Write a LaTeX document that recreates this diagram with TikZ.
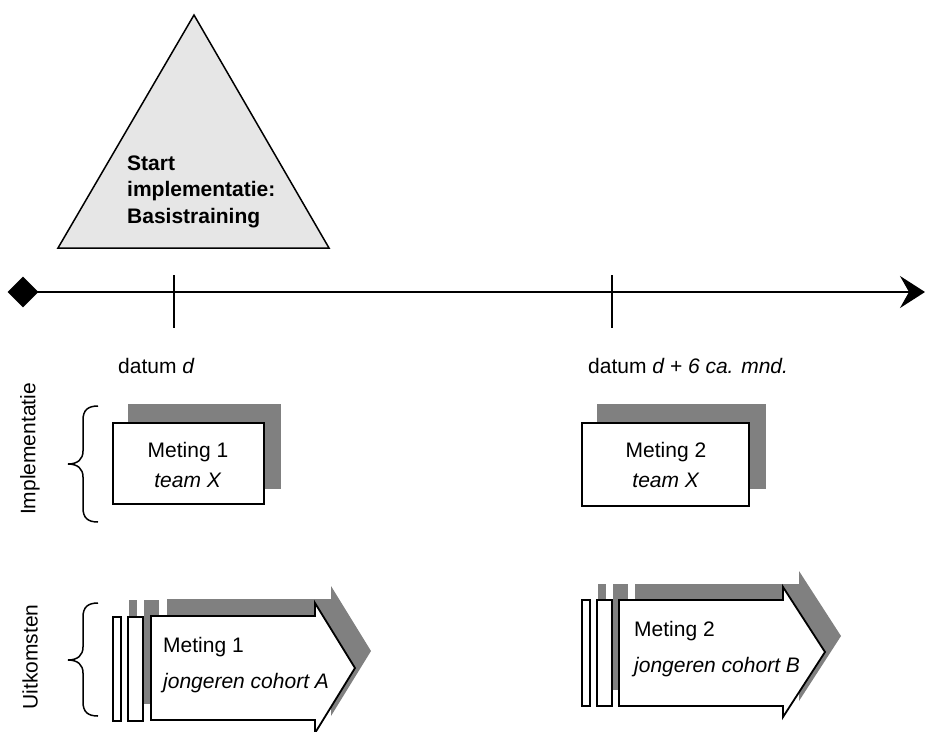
\documentclass[tikz,border=0pt]{standalone}
\usepackage{fontspec}
\setmainfont{Liberation Sans}
\usetikzlibrary{arrows.meta,shapes.geometric}
\definecolor{shade}{RGB}{128,128,128}
\definecolor{trifill}{RGB}{230,230,230}
\tikzset{
  txt/.style={inner sep=0pt, font=\fontsize{21}{25}\selectfont},
  btxt/.style={inner sep=0pt, font=\fontsize{21}{25}\selectfont\bfseries, anchor=base west},
  shadowfill/.style={fill=shade, draw=none},
  whitebox/.style={draw=black, fill=white, line width=1.8pt},
  bracestyle/.style={line width=1.5pt},
  tickstyle/.style={line width=1.5pt},
  axisline/.style={line width=1.9pt, -{Stealth[length=25pt,width=32pt,inset=9pt]}},
}
\begin{document}
\begin{tikzpicture}[x=1pt,y=-1pt]
\useasboundingbox (0,0) rectangle (925,731);
\clip (0,0) rectangle (925,731);

% triangle
\coordinate (apex) at (194,15);
\coordinate (bl) at (58,248);
\coordinate (br) at (329,248);
\filldraw[fill=trifill, draw=black, line width=1.5pt, line join=miter] (apex) -- (br) -- (bl) -- cycle;
\node[btxt] (s1) at (127,170) {Start};
\node[btxt] (s2) at (127,196.5) {implementatie:};
\node[btxt] (s3) at (127,223) {Basistraining};

% axis
\node[diamond, fill=black, inner sep=0pt, minimum width=31pt, minimum height=31pt] (start) at (23,292) {};
\coordinate (end) at (925,292);
\draw[axisline] (start.center) -- (end);
\coordinate (t1a) at (174,275); \coordinate (t1b) at (174,328);
\coordinate (t2a) at (612,275); \coordinate (t2b) at (612,328);
\draw[tickstyle] (t1a) -- (t1b);
\draw[tickstyle] (t2a) -- (t2b);

% date labels
\node[txt, anchor=base west] (d1) at (118,373) {datum \textit{d}};
\node[txt, anchor=base west] (d2) at (588,373) {datum \textit{d + 6 ca. mnd.}};

% side labels
\node[txt, rotate=90] (limp) at (30,449) {Implementatie};
\node[txt, rotate=90] (luit) at (30,657) {Uitkomsten};

% braces
\draw[bracestyle] (98,406) .. controls (88,406) and (83,410) .. (83,420) -- (83,451)
  .. controls (83,459) and (78,464) .. (68,464)
  .. controls (78,464) and (83,469) .. (83,477) -- (83,508)
  .. controls (83,518) and (88,522) .. (98,522);
\draw[bracestyle] (98,603) .. controls (88,603) and (83,607) .. (83,617) -- (83,647)
  .. controls (83,655) and (78,660) .. (68,660)
  .. controls (78,660) and (83,665) .. (83,673) -- (83,702)
  .. controls (83,712) and (88,716) .. (98,716);

% measurement boxes (implementation)
\fill[shadowfill] (128,404) rectangle (281,489);
\node[whitebox, minimum width=151pt, minimum height=81pt, inner sep=0pt] (m1) at (188.5,463.5) {};
\node[txt, anchor=base] (m1a) at (188,457) {Meting 1};
\node[txt, anchor=base] (m1b) at (188,487) {\textit{team X}};

\fill[shadowfill] (597,404) rectangle (766,489);
\node[whitebox, minimum width=167pt, minimum height=83pt, inner sep=0pt] (m2) at (665.5,464.5) {};
\node[txt, anchor=base] (m2a) at (666,457) {Meting 2};
\node[txt, anchor=base] (m2b) at (666,487) {\textit{team X}};

% outcome arrow 1
\begin{scope}[shift={(16,-17)}]
  \fill[shadowfill] (113,617) rectangle (121,721);
  \fill[shadowfill] (128,617) rectangle (143,721);
  \fill[shadowfill] (151,616) -- (315,616) -- (315,603) -- (355,668) -- (315,733) -- (315,720) -- (151,720) -- cycle;
\end{scope}
\filldraw[whitebox] (113,617) rectangle (121,721);
\filldraw[whitebox] (128,617) rectangle (143,721);
\filldraw[whitebox, line join=miter] (151,616) -- (315,616) -- (315,603) -- (355,668) -- (315,733) -- (315,720) -- (151,720) -- cycle;
\node[txt, anchor=base west] (o1a) at (163,652) {Meting 1};
\node[txt, anchor=base west] (o1b) at (163,688) {\textit{jongeren cohort A}};

% outcome arrow 2
\begin{scope}[shift={(16,-16)}]
  \fill[shadowfill] (582,600) rectangle (590,706);
  \fill[shadowfill] (597,600) rectangle (612,706);
  \fill[shadowfill] (619,600) -- (783,600) -- (783,587) -- (825,652) -- (783,717) -- (783,706) -- (619,706) -- cycle;
\end{scope}
\filldraw[whitebox] (582,600) rectangle (590,706);
\filldraw[whitebox] (597,600) rectangle (612,706);
\filldraw[whitebox, line join=miter] (619,600) -- (783,600) -- (783,587) -- (825,652) -- (783,717) -- (783,706) -- (619,706) -- cycle;
\node[txt, anchor=base west] (o2a) at (634,636) {Meting 2};
\node[txt, anchor=base west] (o2b) at (634,672) {\textit{jongeren cohort B}};
\end{tikzpicture}
\end{document}
